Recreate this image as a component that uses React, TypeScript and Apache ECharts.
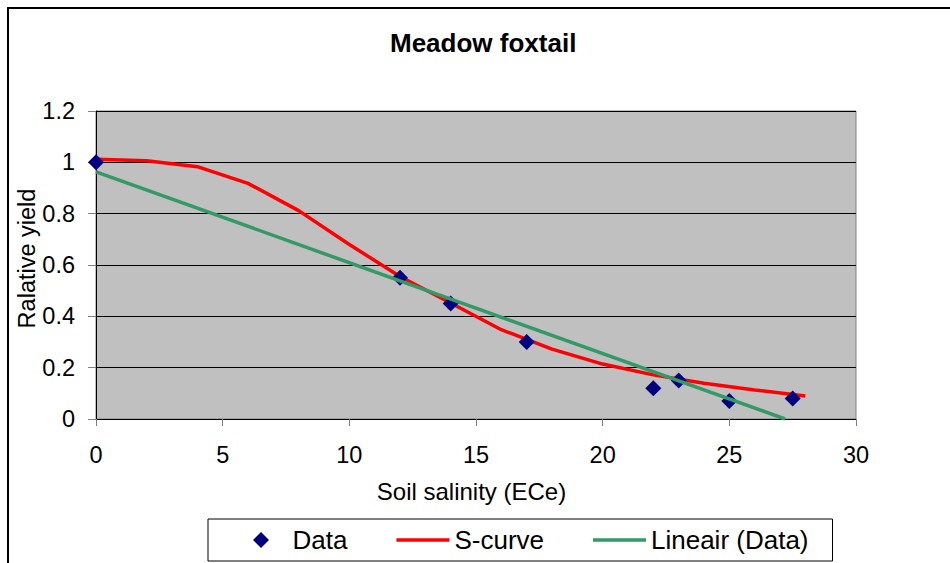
import React, { useEffect, useRef } from "react";
import * as echarts from "echarts";

const titleText = "Meadow foxtail";
const xAxisName = "Soil salinity (ECe)";
const yAxisName = "Ralative yield";

const dataX = [0, 12, 14, 17, 22, 23, 25, 27.5];
const dataY = [1.0, 0.55, 0.45, 0.3, 0.12, 0.15, 0.07, 0.08];

const sCurveX = [0, 2, 4, 6, 8, 10, 12, 14, 16, 18, 20, 22, 24, 26, 28];
const sCurveY = [1.012, 1.006, 0.983, 0.918, 0.812, 0.68, 0.555, 0.452, 0.348, 0.272, 0.214, 0.172, 0.139, 0.113, 0.09];

const linearX = [0, 27.2];
const linearY = [0.963, 0];

const seriesNames = ["Data", "S-curve", "Lineair (Data)"];

const FONT = "'Liberation Sans', Arial, sans-serif";

const DIAMOND_ICON = "path://M8,0L16,8L8,16L0,8Z";
const LINE_ICON = "path://M0,0H53V3.5H0Z";

export default function App() {
  const ref = useRef<HTMLDivElement>(null);

  useEffect(() => {
    if (!ref.current) return;
    const chart = echarts.init(ref.current, undefined, { renderer: "svg" });
    const zip = (xs: number[], ys: number[]) => xs.map((x, i) => [x, ys[i]]);

    chart.setOption({
      animation: false,
      backgroundColor: "#ffffff",
      textStyle: { fontFamily: FONT },
      title: {
        text: titleText,
        left: 390,
        top: 30,
        padding: 0,
        textStyle: { fontFamily: FONT, fontSize: 26, fontWeight: "bold", color: "#000" },
      },
      grid: {
        left: 96,
        right: 94,
        top: 111,
        bottom: 144,
        show: true,
        backgroundColor: "#C0C0C0",
        borderColor: "#808080",
        borderWidth: 1,
      },
      legend: {
        data: [
          { name: seriesNames[0], icon: DIAMOND_ICON },
          { name: seriesNames[1], icon: LINE_ICON },
          { name: seriesNames[2], icon: LINE_ICON },
        ],
        left: 208,
        top: 519,
        padding: [8, 24, 8, 45],
        itemGap: 49,
        itemWidth: 53,
        itemHeight: 16,
        borderColor: "#000",
        borderWidth: 1,
        backgroundColor: "#fff",
        itemStyle: { borderWidth: 0, opacity: 1 },
        textStyle: { fontFamily: FONT, fontSize: 26, color: "#000", lineHeight: 26 },
      },
      xAxis: {
        type: "value",
        min: 0,
        max: 30,
        interval: 5,
        name: xAxisName,
        nameLocation: "middle",
        nameGap: 60,
        nameMoveOverlap: false,
        nameTextStyle: { fontFamily: FONT, fontSize: 24, color: "#000", padding: [0, 9, 0, 0] },
        axisLine: { show: true, onZero: false, lineStyle: { color: "#000", width: 1 } },
        axisTick: { show: true, length: 7, lineStyle: { color: "#808080" } },
        axisLabel: { fontFamily: FONT, fontSize: 23.5, color: "#000", margin: 24 },
        splitLine: { show: false },
      },
      yAxis: {
        type: "value",
        min: 0,
        max: 1.2,
        interval: 0.2,
        name: yAxisName,
        nameLocation: "middle",
        nameGap: 57,
        nameMoveOverlap: false,
        nameTextStyle: { fontFamily: FONT, fontSize: 23.5, color: "#000", padding: [0, 0, 0, 13] },
        axisLine: { show: true, onZero: false, lineStyle: { color: "#000", width: 1 } },
        axisTick: { show: true, length: 8, lineStyle: { color: "#808080" } },
        axisLabel: { fontFamily: FONT, fontSize: 23.5, color: "#000", margin: 21 },
        splitLine: { show: true, lineStyle: { color: "#000", width: 1 } },
      },
      series: [
        {
          name: "S-curve",
          type: "line",
          data: zip(sCurveX, sCurveY),
          symbol: "none",
          lineStyle: { color: "#FF0000", width: 3.5 },
          itemStyle: { color: "#FF0000" },
          z: 2,
        },
        {
          name: "Data",
          type: "scatter",
          data: zip(dataX, dataY),
          symbol: "diamond",
          symbolSize: 16,
          itemStyle: { color: "#000080", opacity: 1 },
          z: 3,
        },
        {
          name: "Lineair (Data)",
          type: "line",
          data: zip(linearX, linearY),
          symbol: "none",
          lineStyle: { color: "#339966", width: 3.5 },
          itemStyle: { color: "#339966" },
          z: 4,
        },
      ],
      graphic: [
        {
          type: "rect",
          shape: { x: 8, y: 8, width: 1000, height: 1000 },
          style: { fill: "none", stroke: "#000", lineWidth: 2 },
          silent: true,
          z: 100,
        },
      ],
    });

    return () => chart.dispose();
  }, []);

  return (
    <div
      ref={ref}
      style={{ position: "fixed", left: 0, top: 0, width: 950, height: 563 }}
    />
  );
}
